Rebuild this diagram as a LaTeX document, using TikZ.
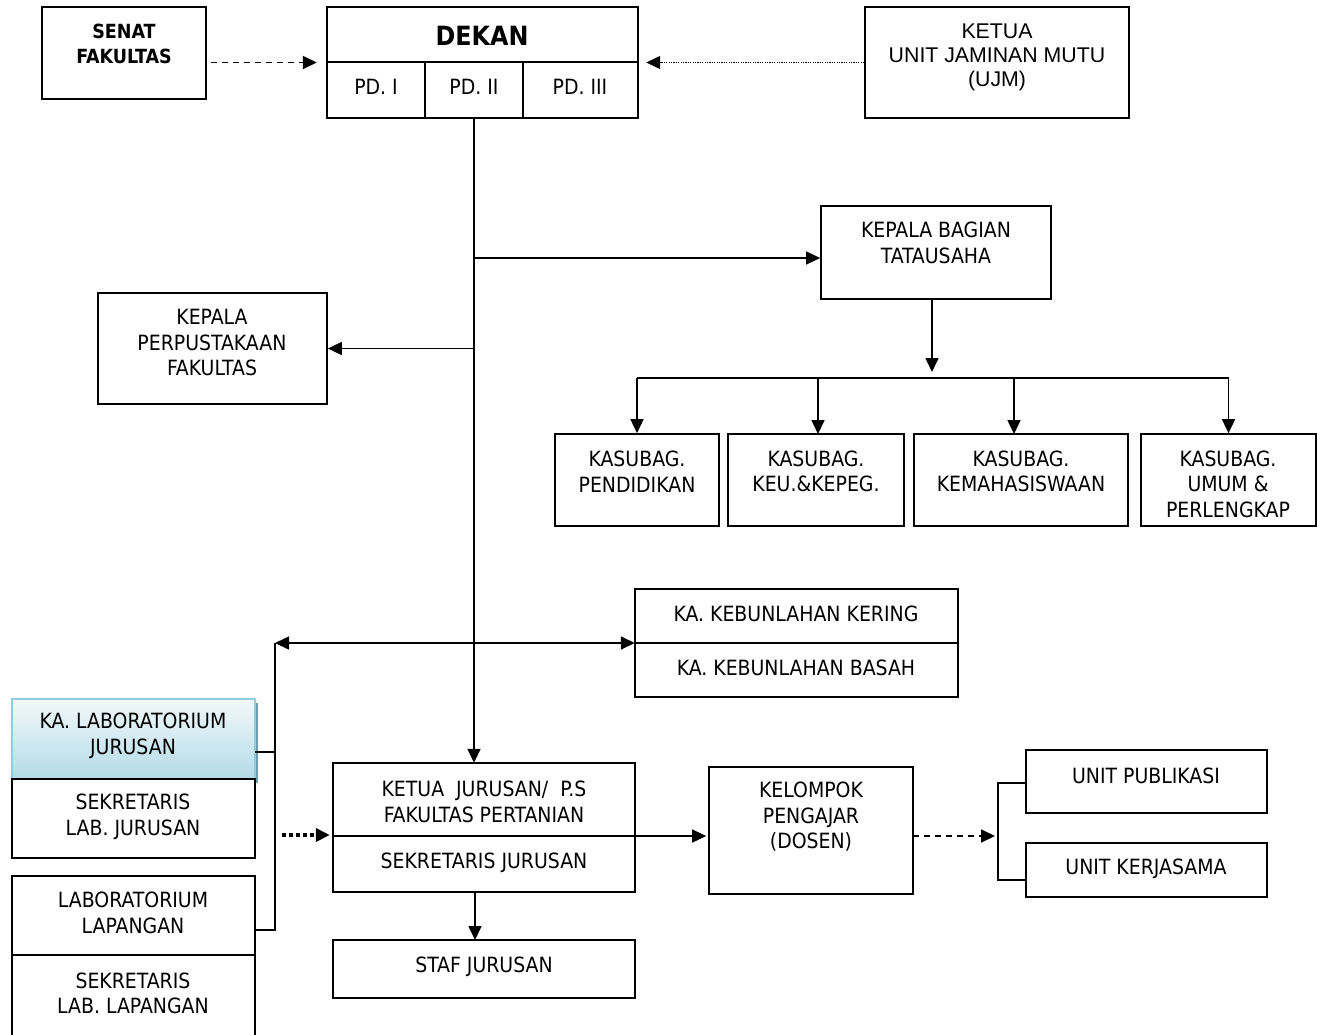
\documentclass[tikz,border=0pt]{standalone}
\usepackage{fontspec}
\setmainfont{DejaVu Sans Condensed}
\newfontfamily\arialfont{Liberation Sans}
\usetikzlibrary{arrows.meta,fit}
\definecolor{labedge}{HTML}{92CDDC}
\definecolor{labtop}{HTML}{F2F9FB}
\definecolor{labbot}{HTML}{B3DBE7}
\definecolor{labshadow}{HTML}{6F9FAE}
\tikzset{
 box/.style={draw, line width=1.7pt, inner sep=0pt},
 cell/.style={inner sep=0pt},
 txt/.style={inner sep=0pt, align=center, font=\fontsize{21}{25.5}\selectfont},
 ln/.style={line width=1.6pt},
 arr/.style={line width=1.6pt, -{Triangle[length=14pt,width=13pt]}},
 darr/.style={arr, line width=1.9pt, dash pattern=on 6pt off 5pt},
}
\begin{document}
\begin{tikzpicture}[x=1pt,y=-1pt]
\useasboundingbox (0,0) rectangle (1324,1034);
\fill[white] (0,0) rectangle (1324,1034);
\clip (0,0) rectangle (1324,1034);

% top row
\node[box, fit={(42,7) (206,99)}] (senat) {};
\node[txt, font=\fontsize{19.5}{25}\selectfont\bfseries] (tsenat) at (124,43.5) {SENAT\\FAKULTAS};

\node[box, fit={(327,7) (638,62)}] (dekantop) {};
\node[box, fit={(327,62) (425,118)}] (pd1) {};
\node[box, fit={(425,62) (523,118)}] (pd2) {};
\node[box, fit={(523,62) (638,118)}] (pd3) {};
\node[cell, fit={(327,7) (638,118)}] (dekan) {};
\node[txt, font=\fontsize{26.5}{30}\selectfont\bfseries] (tdekan) at (482,36) {DEKAN};
\node[txt] (tpd1) at (376,87) {PD. I};
\node[txt] (tpd2) at (474,87) {PD. II};
\node[txt] (tpd3) at (580,87) {PD. III};

\node[box, fit={(865,7) (1129,118)}] (ujm) {};
\node[txt, font=\fontsize{21.3}{24}\arialfont] (tujm) at (997,57) {KETUA\\UNIT JAMINAN MUTU\\(UJM)};

\draw[darr, shorten <=4pt, shorten >=10pt] (senat.east |- dekan.east) -- (dekan.west);
\draw[arr, line width=1.2pt, dash pattern=on 1.2pt off 1.2pt, shorten >=8pt] (ujm.west) -- (dekan.east);

% middle
\node[box, fit={(821,206) (1051,299)}] (tu) {};
\node[txt] (ttu) at (936,243) {KEPALA BAGIAN\\TATAUSAHA};
\node[box, fit={(98,293) (327,404)}] (perpus) {};
\node[txt] (tperpus) at (212,342.5) {KEPALA\\PERPUSTAKAAN\\FAKULTAS};

\node[box, fit={(555,434) (719,526)}] (k1) {};
\node[box, fit={(728,434) (904,526)}] (k2) {};
\node[box, fit={(914,434) (1128,526)}] (k3) {};
\node[box, fit={(1141,434) (1316,526)}] (k4) {};
\node[txt] (tk1) at (637,471.5) {KASUBAG.\\PENDIDIKAN};
\node[txt] (tk2) at (816,471.5) {KASUBAG.\\KEU.\&KEPEG.};
\node[txt] (tk3) at (1021,471.5) {KASUBAG.\\KEMAHASISWAAN};
\node[txt] (tk4) at (1228,484) {KASUBAG.\\UMUM \&\\PERLENGKAP};

\node[box, fit={(635,589) (958,643)}] (kering) {};
\node[box, fit={(635,643) (958,697)}] (basah) {};
\node[cell, fit={(635,589) (958,697)}] (kebun) {};
\node[txt] (tkering) at (796,614) {KA. KEBUNLAHAN KERING};
\node[txt] (tbasah) at (796,668) {KA. KEBUNLAHAN BASAH};

% left lab boxes
\fill[labshadow] (15,703) rectangle (258,783);
\node[box, draw=labedge, top color=labtop, bottom color=labbot, fit={(12,699) (255,779)}] (labj) {};
\node[box, fill=white, fit={(12,779) (255,858)}] (seklabj) {};
\node[box, fill=white, fit={(12,876) (255,955)}] (lablap) {};
\node[box, fill=white, fit={(12,955) (255,1045)}] (seklablap) {};
\node[txt] (tlabj) at (133,736) {KA. LABORATORIUM\\JURUSAN};
\node[txt] (tseklabj) at (133,817) {SEKRETARIS\\LAB. JURUSAN};
\node[txt] (tlablap) at (133,913) {LABORATORIUM\\LAPANGAN};
\node[txt] (tseklablap) at (133,993.5) {SEKRETARIS\\LAB. LAPANGAN};

% lower centre
\node[box, fit={(333,763) (635,836)}] (ketuaj) {};
\node[box, fit={(333,836) (635,892)}] (sekj) {};
\node[cell, fit={(333,763) (635,892)}] (ketua) {};
\node[txt] (tketua) at (484,802) {KETUA\ \ JURUSAN/\ \ P.S\\FAKULTAS PERTANIAN};
\node[txt] (tsekj) at (484,862.5) {SEKRETARIS JURUSAN};
\node[box, fit={(333,940) (635,998)}] (staf) {};
\node[txt] (tstaf) at (484,966.5) {STAF JURUSAN};

\node[box, fit={(709,767) (913,894)}] (kel) {};
\node[txt] (tkel) at (811,817) {KELOMPOK\\PENGAJAR\\(DOSEN)};
\node[box, fit={(1026,750) (1267,813)}] (pub) {};
\node[txt] (tpub) at (1146,775.5) {UNIT PUBLIKASI};
\node[box, fit={(1026,843) (1267,897)}] (ker) {};
\node[txt] (tker) at (1146,868.5) {UNIT KERJASAMA};

% coordinates
\coordinate (jTU) at (474,258);
\coordinate (kbus) at (932,378);
\coordinate (jKB) at (474,643);
\coordinate (lbus) at (275,643);
\coordinate (lbusE) at (275,930);
\coordinate (labjR) at (255,752);
\coordinate (dotS) at (282,835);
\coordinate (kelA) at (913,836);
\coordinate (brT) at (998,783);
\coordinate (brB) at (998,880);
\coordinate (brM) at (998,836);

% trunk
\draw[arr] (pd2.south) -- (pd2.south |- ketua.north);
\draw[arr] (jTU) -- (jTU -| tu.west);
\draw[arr] (pd2.south |- perpus.east) -- (perpus.east);
\draw[arr] (jKB) -- (kebun.west);
\draw[arr] (jKB) -- (lbus);
\draw[ln] (lbus) -- (lbusE) -- (lablap.east |- lbusE);
\draw[ln] (labjR) -- (labjR -| lbus);

% tatausaha to kasubag
\draw[arr, shorten >=6pt] (kbus |- tu.south) -- (kbus);
\draw[ln] (k1.north |- kbus) -- (k4.north |- kbus);
\draw[arr] (k1.north |- kbus) -- (k1.north);
\draw[arr] (818,378) -- (818,434);
\draw[arr] (1014,378) -- (1014,434);
\draw[arr] (k4.north |- kbus) -- (k4.north);

% ketua jurusan
\draw[arr, line width=3.5pt, dash pattern=on 3.5pt off 3.5pt, shorten >=3pt] (dotS) -- (dotS -| ketua.west);
\draw[arr] (475,892) -- (475,940);
\draw[arr, shorten >=2pt] (ketua.east |- brM) -- (kel.west |- brM);
\draw[darr, shorten >=3pt] (kelA) -- (brM);
\draw[ln] (pub.west |- brT) -- (brT) -- (brB) -- (ker.west |- brB);
\end{tikzpicture}
\end{document}
